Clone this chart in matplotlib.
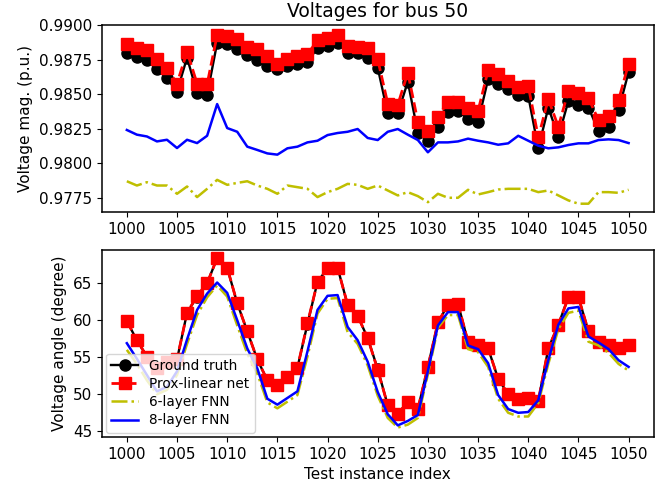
import numpy as np
import matplotlib
matplotlib.use('Agg')
import matplotlib.pyplot as plt

# test instance indices
idx = np.arange(1000, 1051)

# voltage magnitudes (p.u.)
mag_truth = [0.98801, 0.98772, 0.98746, 0.98681, 0.98616, 0.98519, 0.98765, 0.98511, 0.98495, 0.98873,
             0.98861, 0.98825, 0.98782, 0.98746, 0.98704, 0.98681, 0.98704, 0.98717, 0.98733, 0.98837,
             0.98849, 0.98873, 0.98801, 0.98796, 0.98765, 0.98692, 0.98360, 0.98360, 0.98591, 0.98220,
             0.98157, 0.98263, 0.98374, 0.98379, 0.98323, 0.98300, 0.98608, 0.98572, 0.98536, 0.98495,
             0.98488, 0.98107, 0.98403, 0.98191, 0.98451, 0.98420, 0.98403, 0.98234, 0.98263, 0.98384,
             0.98661]
mag_prox = [0.98861, 0.98837, 0.98818, 0.98753, 0.98688, 0.98577, 0.98808, 0.98577, 0.98572, 0.98929,
            0.98921, 0.98897, 0.98842, 0.98825, 0.98777, 0.98721, 0.98753, 0.98777, 0.98789, 0.98892,
            0.98909, 0.98929, 0.98849, 0.98844, 0.98832, 0.98753, 0.98432, 0.98423, 0.98656, 0.98300,
            0.98234, 0.98336, 0.98444, 0.98446, 0.98399, 0.98379, 0.98673, 0.98644, 0.98596, 0.98553,
            0.98560, 0.98186, 0.98464, 0.98263, 0.98524, 0.98505, 0.98471, 0.98312, 0.98343, 0.98457,
            0.98721]
mag_fnn6 = [0.97868, 0.97837, 0.97861, 0.97837, 0.97837, 0.97777, 0.97830, 0.97753, 0.97813, 0.97878,
            0.97842, 0.97856, 0.97868, 0.97837, 0.97813, 0.97777, 0.97837, 0.97825, 0.97813, 0.97753,
            0.97789, 0.97813, 0.97849, 0.97842, 0.97813, 0.97837, 0.97801, 0.97765, 0.97789, 0.97760,
            0.97716, 0.97777, 0.97748, 0.97748, 0.97806, 0.97772, 0.97789, 0.97808, 0.97813, 0.97813,
            0.97813, 0.97789, 0.97801, 0.97765, 0.97729, 0.97705, 0.97705, 0.97789, 0.97789, 0.97784,
            0.97806]
mag_fnn8 = [0.98240, 0.98206, 0.98193, 0.98157, 0.98169, 0.98109, 0.98169, 0.98145, 0.98198, 0.98428,
            0.98254, 0.98227, 0.98119, 0.98095, 0.98070, 0.98061, 0.98107, 0.98119, 0.98150, 0.98162,
            0.98203, 0.98218, 0.98227, 0.98247, 0.98182, 0.98167, 0.98227, 0.98247, 0.98206, 0.98167,
            0.98078, 0.98150, 0.98150, 0.98157, 0.98177, 0.98162, 0.98150, 0.98133, 0.98143, 0.98198,
            0.98162, 0.98126, 0.98107, 0.98114, 0.98131, 0.98143, 0.98143, 0.98167, 0.98172, 0.98167,
            0.98145]

# voltage angles (degree)
ang_truth = [59.8, 57.2, 55.0, 53.5, 54.2, 54.6, 60.9, 63.1, 64.9, 68.3,
             67.0, 62.2, 58.4, 54.6, 51.8, 51.2, 52.3, 53.5, 59.4, 65.1,
             66.9, 67.0, 62.0, 60.5, 57.5, 53.3, 48.4, 47.3, 48.8, 47.9,
             53.6, 59.6, 62.0, 62.1, 57.0, 56.5, 56.1, 52.0, 49.9, 49.2,
             49.4, 49.0, 56.1, 59.3, 63.0, 63.0, 58.4, 57.0, 56.5, 56.1,
             56.5]
ang_prox = [59.8, 57.2, 55.0, 53.5, 54.3, 54.6, 60.9, 63.2, 64.9, 68.3,
            67.0, 62.2, 58.4, 54.6, 51.8, 51.2, 52.3, 53.5, 59.5, 65.1,
            66.9, 67.0, 62.0, 60.5, 57.5, 53.2, 48.4, 47.3, 48.8, 47.9,
            53.6, 59.6, 62.0, 62.1, 57.0, 56.5, 56.1, 52.0, 49.9, 49.2,
            49.4, 49.0, 56.1, 59.3, 63.0, 63.0, 58.4, 57.0, 56.5, 56.1,
            56.5]
ang_fnn6 = [55.9, 54.0, 51.8, 49.9, 50.5, 52.5, 56.7, 60.6, 63.0, 64.6,
            63.1, 59.2, 55.4, 52.7, 48.8, 48.0, 48.9, 49.8, 55.0, 60.8,
            62.8, 62.9, 58.3, 56.7, 53.8, 49.7, 46.7, 45.4, 45.8, 46.7,
            52.6, 58.9, 60.6, 60.6, 56.0, 55.6, 53.6, 49.3, 47.4, 46.9,
            46.9, 48.7, 54.0, 58.7, 60.9, 61.2, 57.0, 56.5, 55.5, 54.0,
            53.1]
ang_fnn8 = [56.8, 54.7, 52.5, 50.3, 50.9, 53.0, 57.3, 61.3, 63.5, 65.0,
            63.6, 59.9, 56.1, 53.4, 49.3, 48.5, 49.4, 50.3, 55.7, 61.3,
            63.2, 63.3, 59.0, 57.2, 54.3, 50.2, 47.2, 45.7, 46.3, 47.1,
            53.0, 59.2, 61.0, 61.0, 56.5, 56.0, 54.1, 49.8, 47.9, 47.4,
            47.5, 49.1, 54.5, 59.3, 61.5, 61.7, 57.7, 56.9, 56.0, 54.5,
            53.6]

plt.rcParams['font.size'] = 11
plt.rcParams['axes.linewidth'] = 1.1

fig = plt.figure(figsize=(6.65, 4.87), dpi=100)
plt.subplots_adjust(left=0.153, right=0.983, top=0.949, bottom=0.103, hspace=0.2)

# FIGURE: voltage magnitudes
ax1 = plt.subplot(2, 1, 1)
ax1.plot(idx, mag_truth, 'k-o', lw=1.7, ms=8, label='Ground truth')
ax1.plot(idx, mag_prox, 'r--s', lw=2, ms=9, label='Prox-linear net')
ax1.plot(idx, mag_fnn6, 'y-.', lw=1.8, label='6-layer FNN')
ax1.plot(idx, mag_fnn8, 'b', lw=1.8, label='8-layer FNN')
ax1.set_ylabel("Voltage mag. (p.u.)")
ax1.set_title("Voltages for bus 50", fontsize=13.5)
ax1.set_xticks(np.arange(1000, 1051, 5))
ax1.set_ylim(0.97644, 0.99003)

# FIGURE: voltage angles
ax2 = plt.subplot(2, 1, 2)
ax2.plot(idx, ang_truth, 'k-o', lw=1.7, ms=8, label='Ground truth')
ax2.plot(idx, ang_prox, 'r--s', lw=2, ms=9, label='Prox-linear net')
ax2.plot(idx, ang_fnn6, 'y-.', lw=1.8, label='6-layer FNN')
ax2.plot(idx, ang_fnn8, 'b', lw=1.8, label='8-layer FNN')
ax2.set_xlabel("Test instance index")
ax2.set_ylabel("Voltage angle (degree)")
ax2.set_xticks(np.arange(1000, 1051, 5))
ax2.set_ylim(44.15, 69.45)
ax2.legend(loc='lower left', fontsize=9.8, borderaxespad=0.3, labelspacing=0.3)

plt.savefig('out.png', dpi=100)
